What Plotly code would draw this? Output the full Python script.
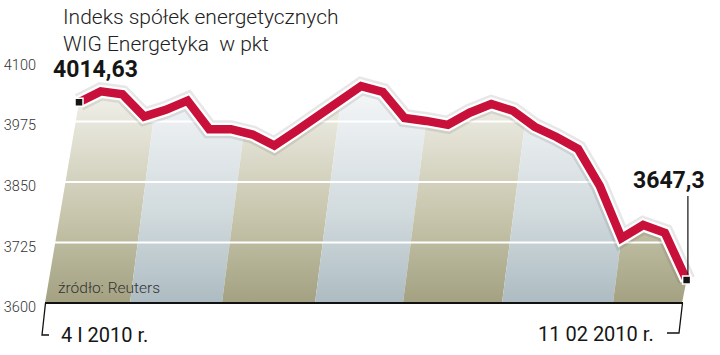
import plotly.graph_objects as go

# ---------------- data ----------------
dates = ["04.01", "05.01", "06.01", "07.01", "08.01",
         "11.01", "12.01", "13.01", "14.01", "15.01",
         "18.01", "19.01", "20.01", "21.01", "22.01",
         "25.01", "26.01", "27.01", "28.01", "29.01",
         "01.02", "02.02", "03.02", "04.02", "05.02",
         "08.02", "09.02", "10.02", "11.02"]
values = [4014.63, 4037, 4031, 3985, 3999,
          4018, 3959, 3959, 3948, 3925,
          3955, 3986, 4017, 4048, 4036,
          3982, 3976, 3968, 3993, 4011,
          3997, 3964, 3943, 3918, 3842,
          3734, 3761, 3745, 3647.3]
y_ticks = [3600, 3725, 3850, 3975, 4100]
title_lines = ["Indeks spółek energetycznych", "WIG Energetyka  w pkt"]
start_label = "4 I 2010 r."
end_label = "11 02 2010 r."
source_label = "źródło: Reuters"

# ---------------- layout helpers (pixel <-> axis) ----------------
W, H = 720, 355
L_MARGIN = 40
X0_PX, DX_PX = 79, 21.7      # pixel of first point, pixel step between days
BASE_PX, K = 303, 0.4842     # pixel of y_ticks[0], pixels per index point
base = y_ticks[0]
top = y_ticks[-1]

def xd(px):
    return (px - X0_PX) / DX_PX

def yd(py):
    return base + (BASE_PX - py) / K

def pxp(px):
    return (px - L_MARGIN) / (W - L_MARGIN)

def pyp(py):
    return 1 - py / H

x_idx = list(range(len(values)))
n_last = x_idx[-1]

def fmt(v):
    return ("{:g}".format(v)).replace(".", ",")

fig = go.Figure()

# ---------------- slanted gradient stripes ----------------
stripe_bounds_px = [-20, 130, 222, 315, 403, 502, 613, 760]
skew_px = 31
olive_scale = [[0, "#a3a181"], [0.4, "#c8c6ad"], [0.8, "#e6e5da"], [1, "#f6f5f0"]]
blue_scale = [[0, "#adbcc2"], [0.4, "#d1dadd"], [0.8, "#eaeef0"], [1, "#f7f8f9"]]
for i in range(len(stripe_bounds_px) - 1):
    b0, b1 = stripe_bounds_px[i], stripe_bounds_px[i + 1]
    fig.add_trace(go.Scatter(
        x=[xd(b0), xd(b1), xd(b1 + skew_px), xd(b0 + skew_px), xd(b0)],
        y=[base, base, top, top, base],
        mode="lines", line=dict(width=0), fill="toself",
        fillgradient=dict(type="vertical",
                          colorscale=olive_scale if i % 2 == 0 else blue_scale,
                          start=base, stop=4060),
        hoverinfo="skip", showlegend=False))

# ---------------- white grid lines ----------------
gx, gy = [], []
for t in y_ticks[1:-1]:
    gx += [xd(L_MARGIN), xd(W), None]
    gy += [t, t, None]
fig.add_trace(go.Scatter(x=gx, y=gy, mode="lines",
                         line=dict(color="white", width=2),
                         hoverinfo="skip", showlegend=False))

# ---------------- white mask above the line / outside the area ----------------
mask_x = [xd(-40), xd(-40), xd(45)] + x_idx + [xd(682), xd(780), xd(780), xd(-40)]
mask_y = [top + 40, base, base] + values + [base, base, top + 40, top + 40]
fig.add_trace(go.Scatter(x=mask_x, y=mask_y, mode="lines", line=dict(width=0),
                         fill="toself", fillcolor="white",
                         hoverinfo="skip", showlegend=False))

# ---------------- baseline ----------------
fig.add_trace(go.Scatter(x=[xd(45), xd(683)], y=[base, base], mode="lines",
                         line=dict(color="#111111", width=2),
                         hoverinfo="skip", showlegend=False))

# ---------------- the index line ----------------
fig.add_trace(go.Scatter(x=x_idx, y=values, mode="lines",
                         line=dict(color="rgba(60,60,60,0.12)", width=18),
                         hoverinfo="skip", showlegend=False))
fig.add_trace(go.Scatter(x=x_idx, y=values, mode="lines",
                         line=dict(color="white", width=13),
                         hoverinfo="skip", showlegend=False))
fig.add_trace(go.Scatter(x=x_idx, y=values, mode="lines",
                         line=dict(color="#c8103a", width=8.5),
                         hoverinfo="skip", showlegend=False))
fig.add_trace(go.Scatter(x=[x_idx[0], x_idx[-1]], y=[values[0], values[-1]],
                         mode="markers",
                         marker=dict(symbol="square", size=8, color="#151515",
                                     line=dict(color="white", width=1.5)),
                         hoverinfo="skip", showlegend=False))

# ---------------- shapes: leader + brackets ----------------
shapes = [
    dict(type="line", xref="x", yref="y", x0=n_last + 0.06, x1=n_last + 0.06,
         y0=values[-1] + 12, y1=yd(196), line=dict(color="#111111", width=1.2)),
    dict(type="path", xref="x", yref="y",
         path=f"M {xd(45.5)},{base} L {xd(42)},{yd(335)} L {xd(49)},{yd(335)}",
         line=dict(color="#111111", width=1.3)),
    dict(type="path", xref="x", yref="y",
         path=f"M {xd(682.5)},{base} L {xd(679)},{yd(333)} L {xd(667)},{yd(333)}",
         line=dict(color="#111111", width=1.3)),
]

# ---------------- annotations ----------------
FONT = "Roboto"
ann = [
    dict(x=pxp(61), y=pyp(17), xref="paper", yref="paper", text=title_lines[0],
         showarrow=False, xanchor="left", yanchor="middle",
         font=dict(family=FONT, size=21, color="#222222", weight=300)),
    dict(x=pxp(61), y=pyp(44), xref="paper", yref="paper", text=title_lines[1],
         showarrow=False, xanchor="left", yanchor="middle",
         font=dict(family=FONT, size=21, color="#222222", weight=300)),
    dict(x=x_idx[0], y=values[0], xref="x", yref="y", text=fmt(values[0]),
         showarrow=False, xanchor="left", yanchor="middle", xshift=-28, yshift=33,
         font=dict(family=FONT, size=23, color="#151515", weight=700)),
    dict(x=x_idx[-1], y=values[-1], xref="x", yref="y", text=fmt(values[-1]),
         showarrow=False, xanchor="right", yanchor="middle", xshift=20, yshift=100,
         font=dict(family=FONT, size=23, color="#151515", weight=700)),
    dict(x=pxp(56), y=pyp(288), xref="paper", yref="paper", text=source_label,
         showarrow=False, xanchor="left", yanchor="middle",
         font=dict(family=FONT, size=15.5, color="#333333", weight=300)),
    dict(x=pxp(59), y=pyp(335), xref="paper", yref="paper", text=start_label,
         showarrow=False, xanchor="left", yanchor="middle",
         font=dict(family=FONT, size=20, color="#151515")),
    dict(x=pxp(656), y=pyp(334), xref="paper", yref="paper", text=end_label,
         showarrow=False, xanchor="right", yanchor="middle",
         font=dict(family=FONT, size=20, color="#151515")),
]

fig.update_layout(
    width=W, height=H,
    margin=dict(l=L_MARGIN, r=0, t=0, b=0, pad=0),
    paper_bgcolor="white", plot_bgcolor="white",
    showlegend=False,
    xaxis=dict(range=[xd(L_MARGIN), xd(W)], visible=False, fixedrange=True),
    yaxis=dict(range=[yd(H), yd(0)], tickvals=y_ticks,
               ticktext=[str(t) for t in y_ticks],
               showgrid=False, zeroline=False, showline=False, ticks="",
               ticklabelstandoff=3, ticklabelshift=4,
               tickfont=dict(family=FONT, size=14.5, color="#333333", weight=300),
               fixedrange=True),
    shapes=shapes,
    annotations=ann,
)

fig.write_html("out.html")
